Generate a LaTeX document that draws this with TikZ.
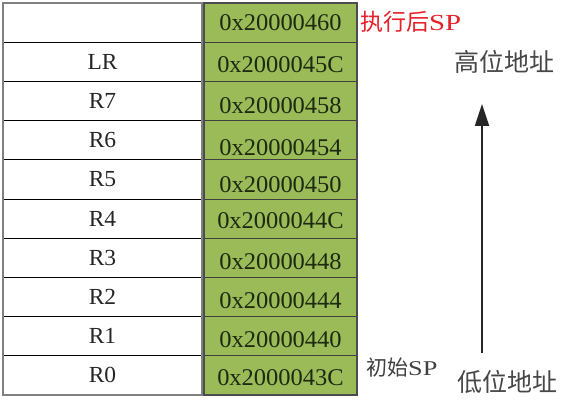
\documentclass[tikz,border=0pt]{standalone}
\usepackage{fontspec}
\newfontfamily\cjk{Noto Sans CJK SC}
\newfontfamily\hexfont[FakeStretch=1.02]{Liberation Serif}
\newfontfamily\spfont[FakeStretch=1.25]{Liberation Serif}
\usetikzlibrary{arrows.meta}
\definecolor{cellgreen}{HTML}{9BBB59}
\definecolor{spred}{HTML}{E8202A}
\definecolor{hexink}{HTML}{1E2A10}
\tikzset{
  regcell/.style={draw=black, line width=0.9pt, minimum width=199pt, minimum height=39.2pt, inner sep=0pt, font=\fontsize{23}{23}\selectfont\hexfont, text=black!85},
  addrcell/.style={draw=black!75, line width=0.9pt, fill=cellgreen, minimum width=153pt, minimum height=39.2pt, inner sep=0pt, text height=16pt, text depth=0pt, font=\fontsize{24}{24}\selectfont\hexfont, text=hexink},
  cjklabel/.style={inner sep=0pt, font=\fontsize{25}{25}\selectfont\cjk, text=black!72},
}
\begin{document}
\begin{tikzpicture}[x=1pt,y=-1pt]
\useasboundingbox (0,0) rectangle (567,401);
\fill[white] (0,0) rectangle (567,401);
% rows
\foreach \lab/\hex/\dy [count=\i from 0] in {{}/0x20000460/0, LR/0x2000045C/3, R7/0x20000458/5, R6/0x20000454/7, R5/0x20000450/5, R4/0x2000044C/2, R3/0x20000448/4, R2/0x20000444/3, R1/0x20000440/3, R0/0x2000043C/2}{
  \node[regcell] (l\i) at (102.5, {3+39.2*(\i+0.5)}) {\lab};
  \node[addrcell] (h\i) at (280.5, {3+39.2*(\i+0.5)}) {\raisebox{-\dy pt}{\hex}};
}
% outer borders
\draw[black!50, line width=2pt] (3,3) rectangle (202,395);
\draw[black!70, line width=1.6pt] (204,3) rectangle (357,395);
% side labels
\node[anchor=west, inner sep=0pt, text=spred, font=\fontsize{23}{23}\selectfont] (after) at (360,22) {{\cjk 执行后}{\spfont SP}};
\node[cjklabel] (high) at (504,62) {高位地址};
\node[anchor=west, inner sep=0pt, text=black!75, font=\fontsize{21}{21}\selectfont] (init) at (366,368) {{\cjk 初始}{\spfont SP}};
\node[cjklabel] (low) at (507,382) {低位地址};
% arrow
\coordinate (abot) at (482,353);
\coordinate (atop) at (482,104);
\draw[black!85, line width=1.8pt, -{Triangle[width=14pt,length=22pt]}] (abot) -- (atop);
\end{tikzpicture}
\end{document}
